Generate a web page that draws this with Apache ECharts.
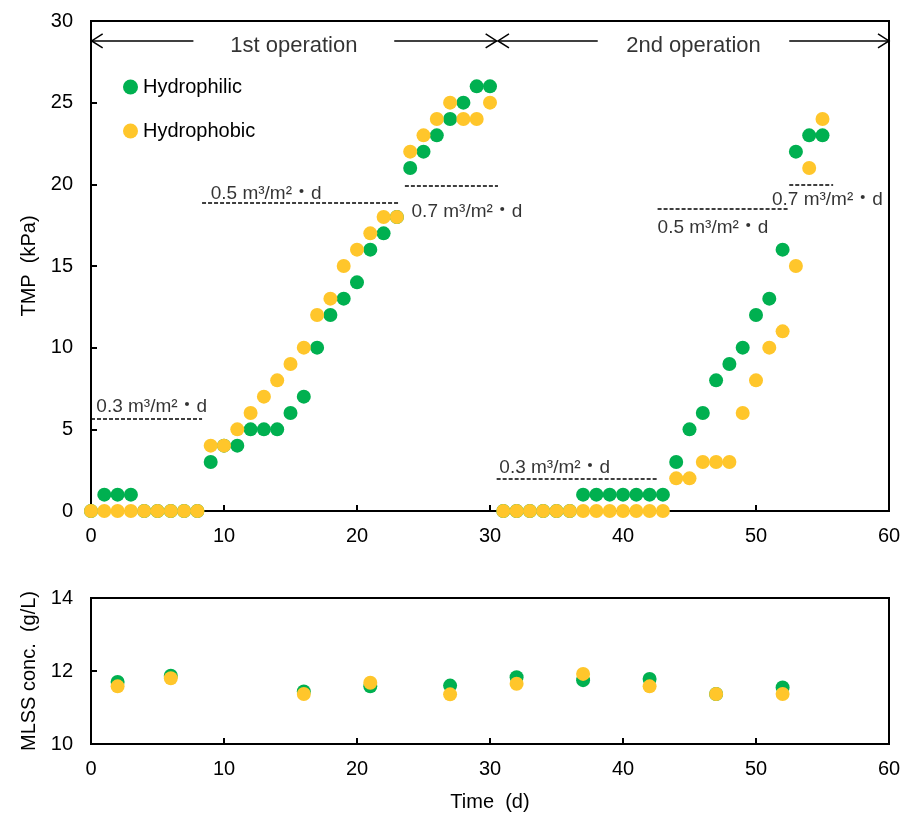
<!DOCTYPE html>
<html>
<head>
<meta charset="utf-8">
<title>TMP and MLSS</title>
<script src="https://cdn.jsdelivr.net/npm/echarts@6/dist/echarts.min.js"></script>
<style>
  html, body { margin: 0; padding: 0; background: #fff; }
  #main { width: 906px; height: 826px; }
</style>
</head>
<body>
<div id="main"></div>
<script>
var myChart = echarts.init(document.getElementById('main'))

// TMP (kPa) per day
var days = [0, 1, 2, 3, 4, 5, 6, 7, 8, 9, 10, 11, 12, 13, 14, 15, 16, 17, 18, 19, 20,
  21, 22, 23, 24, 25, 26, 27, 28, 29, 30, 31, 32, 33, 34, 35, 36, 37, 38, 39, 40,
  41, 42, 43, 44, 45, 46, 47, 48, 49, 50, 51, 52, 53, 54, 55]
var tmpHydrophilic = [0, 1, 1, 1, 0, 0, 0, 0, 0, 3, 4, 4, 5, 5, 5, 6, 7, 10, 12, 13, 14,
  16, 17, 18, 21, 22, 23, 24, 25, 26, 26, 0, 0, 0, 0, 0, 0, 1, 1, 1, 1,
  1, 1, 1, 3, 5, 6, 8, 9, 10, 12, 13, 16, 22, 23, 23]
var tmpHydrophobic = [0, 0, 0, 0, 0, 0, 0, 0, 0, 4, 4, 5, 6, 7, 8, 9, 10, 12, 13, 15, 16,
  17, 18, 18, 22, 23, 24, 25, 24, 24, 25, 0, 0, 0, 0, 0, 0, 0, 0, 0, 0,
  0, 0, 0, 2, 2, 3, 3, 3, 6, 8, 10, 11, 15, 21, 24]

// MLSS (g/L)
var mlssDays = [2, 6, 16, 21, 27, 32, 37, 42, 47, 52]
var mlssHydrophilic = [11.7, 11.87, 11.44, 11.58, 11.6, 11.83, 11.75, 11.78, 11.37, 11.55]
var mlssHydrophobic = [11.58, 11.8, 11.37, 11.68, 11.36, 11.65, 11.92, 11.58, 11.37, 11.37]

// flux annotations: [x start, x end, y level], label [x, y, text]
var fluxLines = [
  [0, 8.35, 5.65],
  [8.35, 23.2, 18.88],
  [23.6, 30.6, 19.92],
  [30.5, 42.6, 2.0],
  [42.6, 52.5, 18.5],
  [52.5, 55.8, 20.0]
]
var fluxLabels = [
  [0.4, 6.4, '0.3 m³/m²・d'],
  [9.0, 19.45, '0.5 m³/m²・d'],
  [24.1, 18.35, '0.7 m³/m²・d'],
  [30.7, 2.65, '0.3 m³/m²・d'],
  [42.6, 17.35, '0.5 m³/m²・d'],
  [51.2, 19.05, '0.7 m³/m²・d']
]
// operation periods: arrow [x start, x end, y, direction], label [x, y, text]
var opArrows = [
  [0.05, 7.7, 28.78, -1],
  [22.8, 30.5, 28.78, 1],
  [30.6, 38.1, 28.78, -1],
  [52.5, 60, 28.78, 1]
]
var opLabels = [
  [15.25, 28.5, '1st operation'],
  [45.3, 28.5, '2nd operation']
]

var green = '#00B050'
var yellow = '#FFC62B'
var font = 'Liberation Sans, Arial, Noto Sans CJK JP, sans-serif'

function pairs(xs, ys) {
  return xs.map(function(x, i) {
    return [x, ys[i]]
  })
}

function axisX(gridIndex, name) {
  return {
    gridIndex: gridIndex,
    type: 'value',
    min: 0,
    max: 60,
    interval: 10,
    name: name,
    nameLocation: 'middle',
    nameGap: 48,
    nameTextStyle: { color: '#000', fontSize: 20, fontFamily: font },
    axisLine: { onZero: false, lineStyle: { color: '#000', width: 2 } },
    axisTick: { inside: true, length: 6, lineStyle: { color: '#000', width: 2 } },
    axisLabel: { color: '#000', fontSize: 20, fontFamily: font, margin: 15 },
    splitLine: { show: false }
  }
}

function axisY(gridIndex, min, max, interval, name, gap) {
  return {
    gridIndex: gridIndex,
    type: 'value',
    min: min,
    max: max,
    interval: interval,
    name: name,
    nameLocation: 'middle',
    nameGap: gap,
    nameRotate: 90,
    nameTextStyle: { color: '#000', fontSize: 20, fontFamily: font },
    axisLine: { lineStyle: { color: '#000', width: 2 } },
    axisTick: { inside: true, length: 6, lineStyle: { color: '#000', width: 2 } },
    axisLabel: { color: '#000', fontSize: 20, fontFamily: font, margin: 18 },
    splitLine: { show: false }
  }
}

option = {
  backgroundColor: '#fff',
  animation: false,
  grid: [
    { left: 91, top: 21, width: 798, height: 490, show: true, borderColor: '#000', borderWidth: 2, outerBoundsMode: 'none' },
    { left: 91, top: 598, width: 798, height: 146, show: true, borderColor: '#000', borderWidth: 2, outerBoundsMode: 'none' }
  ],
  legend: {
    data: ['Hydrophilic', 'Hydrophobic'],
    orient: 'vertical',
    left: 118,
    top: 72,
    icon: 'circle',
    itemWidth: 15,
    itemHeight: 15,
    itemGap: 24,
    textStyle: { color: '#000', fontSize: 20, fontFamily: font }
  },
  xAxis: [axisX(0, ''), axisX(1, 'Time  (d)')],
  yAxis: [
    axisY(0, 0, 30, 5, 'TMP  (kPa)', 51),
    axisY(1, 10, 14, 2, 'MLSS conc.  (g/L)', 51)
  ],
  series: [
    {
      name: 'Hydrophilic',
      type: 'scatter',
      xAxisIndex: 0,
      yAxisIndex: 0,
      symbolSize: 14,
      itemStyle: { color: green, opacity: 1 },
      data: pairs(days, tmpHydrophilic),
      z: 3
    },
    {
      name: 'Hydrophobic',
      type: 'scatter',
      xAxisIndex: 0,
      yAxisIndex: 0,
      symbolSize: 14,
      itemStyle: { color: yellow, opacity: 1 },
      data: pairs(days, tmpHydrophobic),
      z: 4
    },
    {
      name: 'Hydrophilic',
      type: 'scatter',
      xAxisIndex: 1,
      yAxisIndex: 1,
      symbolSize: 14,
      itemStyle: { color: green, opacity: 1 },
      data: pairs(mlssDays, mlssHydrophilic),
      z: 3
    },
    {
      name: 'Hydrophobic',
      type: 'scatter',
      xAxisIndex: 1,
      yAxisIndex: 1,
      symbolSize: 14,
      itemStyle: { color: yellow, opacity: 1 },
      data: pairs(mlssDays, mlssHydrophobic),
      z: 4
    },
    {
      // flux labels and dashed lines
      name: 'flux',
      type: 'scatter',
      xAxisIndex: 0,
      yAxisIndex: 0,
      symbolSize: 0,
      silent: true,
      z: 5,
      label: {
        show: true,
        position: 'right',
        distance: 0,
        color: '#000',
        fontSize: 19,
        fontFamily: font,
        formatter: function(p) {
          return p.name
        }
      },
      data: fluxLabels.map(function(l) {
        return { name: l[2], value: [l[0], l[1]] }
      }),
      markLine: {
        silent: true,
        symbol: 'none',
        label: { show: false },
        lineStyle: { color: '#000', width: 1.5, type: [4, 2] },
        data: fluxLines.map(function(l) {
          return [{ coord: [l[0], l[2]] }, { coord: [l[1], l[2]] }]
        })
      }
    },
    {
      name: 'ops',
      type: 'scatter',
      xAxisIndex: 0,
      yAxisIndex: 0,
      symbolSize: 0,
      silent: true,
      z: 5,
      label: {
        show: true,
        position: 'inside',
        color: '#000',
        fontSize: 22,
        fontFamily: font,
        formatter: function(p) {
          return p.name
        }
      },
      data: opLabels.map(function(l) {
        return { name: l[2], value: [l[0], l[1]] }
      })
    },
    {
      name: 'arrows',
      type: 'custom',
      xAxisIndex: 0,
      yAxisIndex: 0,
      silent: true,
      clip: false,
      z: 5,
      renderItem: function(params, api) {
        var a = api.coord([api.value(0), api.value(2)])
        var b = api.coord([api.value(1), api.value(2)])
        var dir = api.value(3)
        var tip = dir < 0 ? a : b
        var s = dir < 0 ? 1 : -1
        return {
          type: 'group',
          children: [
            {
              type: 'line',
              shape: { x1: a[0], y1: a[1], x2: b[0], y2: b[1] },
              style: { stroke: '#000', lineWidth: 1.5 }
            },
            {
              type: 'polyline',
              shape: { points: [[tip[0] + s * 11, tip[1] - 7], [tip[0], tip[1]], [tip[0] + s * 11, tip[1] + 7]] },
              style: { stroke: '#000', fill: null, lineWidth: 1.5 }
            }
          ]
        }
      },
      data: opArrows
    }
  ]
}
myChart.setOption(option)
window.onresize = function() {
  myChart.resize()
}
</script>
</body>
</html>
